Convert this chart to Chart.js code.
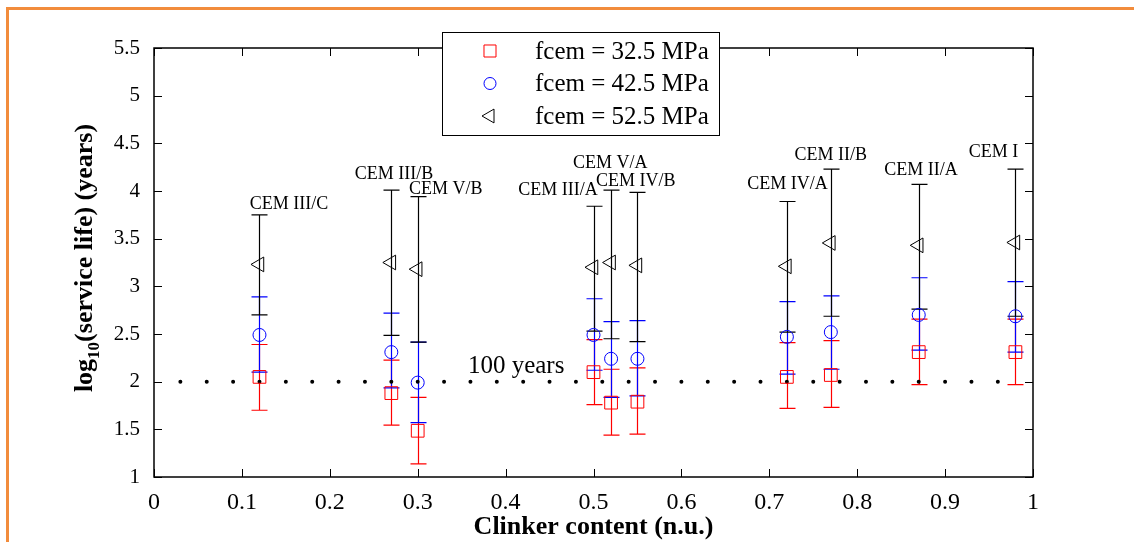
<!DOCTYPE html>
<html>
<head>
<meta charset="utf-8">
<script src="https://cdn.jsdelivr.net/npm/chart.js@4.4.1/dist/chart.umd.min.js"></script>
<style>
  html, body { margin: 0; padding: 0; background: #fff; }
  #wrap { position: relative; width: 1134px; height: 542px; overflow: hidden; }
  #frame { position: absolute; left: 6px; top: 7px; width: 1140px; height: 600px;
           border-top: 3px solid #F28C3C; border-left: 3px solid #F28C3C; }
  canvas { position: absolute; left: 0; top: 0; }
</style>
</head>
<body>
<div id="wrap">
  <div id="frame"></div>
  <canvas id="chart" width="1134" height="542"></canvas>
</div>
<script>
// Datos
const clinker = [0.12, 0.27, 0.30, 0.50, 0.52, 0.55, 0.72, 0.77, 0.87, 0.98];
const cemTypes = ['CEM III/C', 'CEM III/B', 'CEM V/B', 'CEM III/A', 'CEM V/A',
                  'CEM IV/B', 'CEM IV/A', 'CEM II/B', 'CEM II/A', 'CEM I'];

// fcem = 32.5 MPa
const mean325 = [2.05, 1.88, 1.485, 2.10, 1.78, 1.79, 2.05, 2.07, 2.31, 2.31];
const low325  = [1.70, 1.545, 1.137, 1.76, 1.44, 1.45, 1.72, 1.73, 1.97, 1.97];
const high325 = [2.39, 2.225, 1.835, 2.44, 2.13, 2.145, 2.41, 2.43, 2.655, 2.655];

// fcem = 42.5 MPa
const mean425 = [2.49, 2.31, 1.99, 2.49, 2.24, 2.24, 2.47, 2.52, 2.70, 2.686];
const low425  = [2.10, 1.935, 1.57, 2.12, 1.835, 1.85, 2.08, 2.13, 2.33, 2.31];
const high425 = [2.89, 2.72, 2.415, 2.87, 2.63, 2.64, 2.84, 2.90, 3.09, 3.05];

// fcem = 52.5 MPa
const mean525 = [3.23, 3.25, 3.18, 3.20, 3.25, 3.22, 3.21, 3.455, 3.43, 3.46];
const low525  = [2.70, 2.486, 2.415, 2.53, 2.45, 2.42, 2.52, 2.686, 2.76, 2.686];
const high525 = [3.75, 4.01, 3.94, 3.84, 4.01, 3.985, 3.89, 4.23, 4.07, 4.23];

// Línea de referencia: 100 años
const refLevel = 2;
const refStart = 0.03;
const refEnd = 0.99;

// Posición de las etiquetas (unidades de datos)
const labelX = [0.1536, 0.273, 0.332, 0.4596, 0.519, 0.548, 0.7207, 0.77, 0.8726, 0.955];
const labelY = [3.866, 4.18, 4.02, 4.006, 4.295, 4.10, 4.074, 4.38, 4.214, 4.41];

const SERIF = '"Liberation Serif", "DejaVu Serif", serif';
const series = [
  { name: 'fcem = 32.5 MPa', mean: mean325, low: low325, high: high325, color: '#FF0000', style: 'rect', radius: 9, rotation: 0 },
  { name: 'fcem = 42.5 MPa', mean: mean425, low: low425, high: high425, color: '#0000FF', style: 'circle', radius: 6.5, rotation: 0 },
  { name: 'fcem = 52.5 MPa', mean: mean525, low: low525, high: high525, color: '#000000', style: 'triangle', radius: 8.5, rotation: -90 }
];

const toPoints = (ys) => clinker.map((x, i) => ({ x: x, y: ys[i] }));
const fmtTick = v => String(Number(v.toFixed(2)));

const datasets = series.map(s => ({
  label: s.name,
  data: toPoints(s.mean),
  showLine: false,
  pointStyle: s.style,
  pointRadius: s.radius,
  pointRotation: s.rotation,
  pointBorderColor: s.color,
  pointBackgroundColor: 'rgba(0,0,0,0)',
  pointBorderWidth: 1,
  order: 1
}));

// Línea punteada de 100 años
datasets.unshift({
  type: 'line',
  label: '100 years',
  data: [{ x: refStart, y: refLevel }, { x: refEnd, y: refLevel }],
  borderColor: '#000',
  borderWidth: 4,
  borderDash: [0, 26.37],
  borderCapStyle: 'round',
  pointRadius: 0,
  order: 2
});

// Barras de error
const errorBars = {
  id: 'errorBars',
  beforeDatasetsDraw(chart) {
    const { ctx, scales: { x, y } } = chart;
    ctx.save();
    ctx.lineWidth = 1.2;
    series.forEach(s => {
      ctx.strokeStyle = s.color;
      clinker.forEach((cx, i) => {
        const px = Math.round(x.getPixelForValue(cx)) + 0.5;
        const top = y.getPixelForValue(s.high[i]);
        const bot = y.getPixelForValue(s.low[i]);
        ctx.beginPath();
        ctx.moveTo(px, top); ctx.lineTo(px, bot);
        ctx.moveTo(px - 8, top); ctx.lineTo(px + 8, top);
        ctx.moveTo(px - 8, bot); ctx.lineTo(px + 8, bot);
        ctx.stroke();
      });
    });
    ctx.restore();
  }
};

// Marco, ticks interiores, títulos, etiquetas y leyenda
const decorations = {
  id: 'decorations',
  afterDraw(chart) {
    const { ctx, chartArea: a, scales: { x, y } } = chart;
    ctx.save();
    ctx.strokeStyle = '#000';
    ctx.lineWidth = 1.5;
    ctx.strokeRect(a.left, a.top, a.right - a.left, a.bottom - a.top);
    ctx.lineWidth = 1;
    ctx.beginPath();
    x.ticks.forEach(t => {
      const px = Math.round(x.getPixelForValue(t.value)) + 0.5;
      ctx.moveTo(px, a.bottom); ctx.lineTo(px, a.bottom - 8);
      ctx.moveTo(px, a.top); ctx.lineTo(px, a.top + 8);
    });
    y.ticks.forEach(t => {
      const py = Math.round(y.getPixelForValue(t.value)) + 0.5;
      ctx.moveTo(a.left, py); ctx.lineTo(a.left + 8, py);
      ctx.moveTo(a.right, py); ctx.lineTo(a.right - 8, py);
    });
    ctx.stroke();

    // Etiquetas de tipo de cemento
    ctx.fillStyle = '#000';
    ctx.font = '18px ' + SERIF;
    ctx.textAlign = 'center';
    ctx.textBaseline = 'middle';
    cemTypes.forEach((txt, i) => {
      ctx.fillText(txt, x.getPixelForValue(labelX[i]), y.getPixelForValue(labelY[i]));
    });

    ctx.font = '25px ' + SERIF;
    ctx.fillText('100 years', x.getPixelForValue(0.412), y.getPixelForValue(2.16));

    // Título eje X
    ctx.font = 'bold 26px ' + SERIF;
    ctx.fillText('Clinker content (n.u.)', (a.left + a.right) / 2, 527);

    // Título eje Y con subíndice
    ctx.save();
    ctx.translate(92, 258);
    ctx.rotate(-Math.PI / 2);
    ctx.textAlign = 'left';
    ctx.textBaseline = 'alphabetic';
    const big = 'bold 26px ' + SERIF, small = 'bold 17px ' + SERIF;
    ctx.font = big; const w1 = ctx.measureText('log').width;
    ctx.font = small; const w2 = ctx.measureText('10').width;
    ctx.font = big; const w3 = ctx.measureText('(service life) (years)').width;
    let sx = -(w1 + w2 + w3) / 2;
    ctx.font = big; ctx.fillText('log', sx, 0); sx += w1;
    ctx.font = small; ctx.fillText('10', sx, 7); sx += w2;
    ctx.font = big; ctx.fillText('(service life) (years)', sx, 0);
    ctx.restore();

    // Leyenda
    const lx = 442, ly = 32, lw = 277, lh = 103;
    ctx.fillStyle = '#fff';
    ctx.fillRect(lx, ly, lw, lh);
    ctx.strokeStyle = '#000';
    ctx.lineWidth = 1;
    ctx.strokeRect(lx + 0.5, ly + 0.5, lw, lh);
    const rows = [51, 83.5, 116];
    series.forEach((s, i) => {
      ctx.strokeStyle = s.color;
      ctx.fillStyle = 'rgba(0,0,0,0)';
      ctx.lineWidth = 1;
      Chart.helpers.drawPoint(ctx, { pointStyle: s.style, radius: s.radius - 0.5, rotation: s.rotation, borderWidth: 1 }, 490, rows[i]);
      ctx.fillStyle = '#000';
      ctx.font = '25px ' + SERIF;
      ctx.textAlign = 'left';
      ctx.textBaseline = 'middle';
      ctx.fillText(s.name, 535, rows[i] + 1);
    });
    ctx.restore();
  }
};

new Chart(document.getElementById('chart').getContext('2d'), {
  type: 'scatter',
  data: { datasets: datasets },
  options: {
    responsive: false,
    animation: false,
    layout: { padding: { left: 0, right: 101, top: 48, bottom: 0 } },
    plugins: { legend: { display: false }, tooltip: { enabled: false } },
    scales: {
      x: {
        type: 'linear', min: 0, max: 1,
        afterFit: s => { s.height = 65; },
        grid: { display: false },
        border: { display: false },
        ticks: { stepSize: 0.1, color: '#000', padding: 3, maxRotation: 0,
                 callback: fmtTick, font: { family: SERIF, size: 24 } }
      },
      y: {
        type: 'linear', min: 1, max: 5.5,
        afterFit: s => { s.width = 154; },
        grid: { display: false },
        border: { display: false },
        ticks: { stepSize: 0.5, color: '#000', padding: 6,
                 callback: fmtTick, font: { family: SERIF, size: 21 } }
      }
    }
  },
  plugins: [errorBars, decorations]
});
</script>
</body>
</html>
